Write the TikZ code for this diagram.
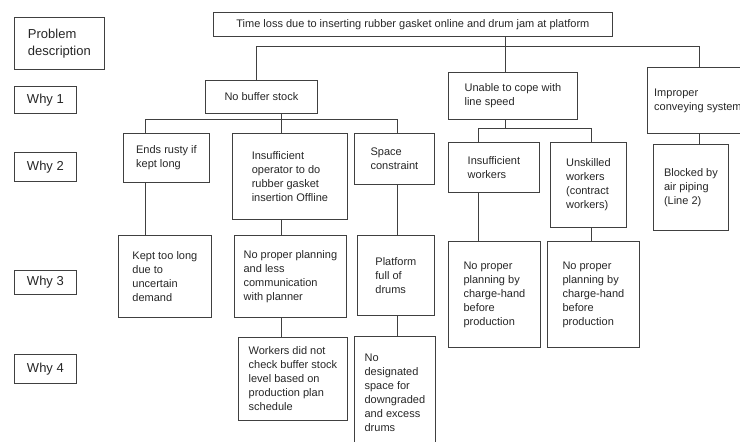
\documentclass[tikz,border=0pt]{standalone}
\usepackage{fontspec}
\setmainfont{Liberation Sans}
\usetikzlibrary{calc}

\begin{document}
\begin{tikzpicture}[x=1pt, y=-1pt,
    box/.style={rectangle, draw=black!75, line width=0.8pt, anchor=north west, align=left, inner sep=2pt, text=black!85, font=\fontsize{11}{14}\selectfont},
    why/.style={box, font=\fontsize{13}{17}\selectfont},
    link/.style={draw=black!75, line width=0.8pt}
]
    \clip (0,0) rectangle (740,442);

    % left column
    \node[why, minimum width=90pt, minimum height=52pt] (prob) at (14,17) {Problem\\description};
    \node[why, minimum width=62pt, minimum height=27pt] (why1) at (14,86)  {Why 1};
    \node[why, minimum width=62pt, minimum height=29pt] (why2) at (14,152) {Why 2};
    \node[why, minimum width=62pt, minimum height=24pt] (why3) at (14,270) {Why 3};
    \node[why, minimum width=62pt, minimum height=29pt] (why4) at (14,354) {Why 4};

    % problem and why 1
    \node[box, minimum width=399pt, minimum height=24pt] (top) at (213,12) {Time loss due to inserting rubber gasket online and drum jam at platform};
    \node[box, minimum width=112pt, minimum height=33pt] (nobuf)    at (205,80)  {No buffer stock};
    \node[box, minimum width=129pt, minimum height=47pt] (unable)   at (448,72)  {Unable to cope with\\line speed};
    \node[box, minimum width=101pt, minimum height=66pt] (improper) at (647,67)  {Improper\\conveying system};

    % why 2
    \node[box, minimum width=86pt,  minimum height=49pt] (rusty)   at (123,133) {Ends rusty if\\kept long};
    \node[box, minimum width=115pt, minimum height=86pt] (insop)   at (232,133) {Insufficient\\operator to do\\rubber gasket\\insertion Offline};
    \node[box, minimum width=80pt,  minimum height=51pt] (space)   at (354,133) {Space\\constraint};
    \node[box, minimum width=91pt,  minimum height=50pt] (insw)    at (448,142) {Insufficient\\workers};
    \node[box, minimum width=76pt,  minimum height=85pt] (unsk)    at (550,142) {Unskilled\\workers\\(contract\\workers)};
    \node[box, minimum width=75pt,  minimum height=86pt] (blocked) at (653,144) {Blocked by\\air piping\\(Line 2)};

    % why 3
    \node[box, minimum width=93pt,  minimum height=82pt]  (kept)     at (118,235) {Kept too long\\due to\\uncertain\\demand};
    \node[box, minimum width=112pt, minimum height=82pt]  (noplan)   at (234,235) {No proper planning\\and less\\communication\\with planner};
    \node[box, minimum width=77pt,  minimum height=80pt]  (platform) at (357,235) {Platform\\full of\\drums};
    \node[box, minimum width=92pt,  minimum height=106pt] (plana)    at (448,241) {No proper\\planning by\\charge-hand\\before\\production};
    \node[box, minimum width=92pt,  minimum height=106pt] (planb)    at (547,241) {No proper\\planning by\\charge-hand\\before\\production};

    % why 4
    \node[box, minimum width=109pt, minimum height=83pt]  (workers) at (238,337) {Workers did not\\check buffer stock\\level based on\\production plan\\schedule};
    \node[box, minimum width=81pt,  minimum height=112pt] (nodesig) at (354,336) {No\\designated\\space for\\downgraded\\and excess\\drums};

    % bus lines
    \coordinate (ta) at (256,46);
    \coordinate (tb) at (505,46);
    \coordinate (tc) at (699,46);
    \coordinate (sa) at (145,119);
    \coordinate (sb) at (281,119);
    \coordinate (sc) at (397,119);
    \coordinate (ra) at (478,128);
    \coordinate (rb) at (505,128);
    \coordinate (rc) at (591,128);

    \draw[link] (top.south -| tb) -- (unable.north -| tb);
    \draw[link] (nobuf.north -| ta) -- (ta) -- (tc) -- (improper.north -| tc);

    \draw[link] (nobuf.south -| sb) -- (insop.north -| sb);
    \draw[link] (rusty.north -| sa) -- (sa) -- (sc) -- (space.north -| sc);
    \draw[link] (rusty.south -| sa) -- (kept.north -| sa);
    \draw[link] (insop.south -| sb) -- (noplan.north -| sb);
    \draw[link] (noplan.south -| sb) -- (workers.north -| sb);
    \draw[link] (space.south -| sc) -- (platform.north -| sc);
    \draw[link] (platform.south -| sc) -- (nodesig.north -| sc);

    \draw[link] (unable.south -| rb) -- (rb);
    \draw[link] (insw.north -| ra) -- (ra) -- (rc) -- (unsk.north -| rc);
    \draw[link] (insw.south -| ra) -- (plana.north -| ra);
    \draw[link] (unsk.south -| rc) -- (planb.north -| rc);
    \draw[link] (improper.south -| tc) -- (blocked.north -| tc);
\end{tikzpicture}
\end{document}
